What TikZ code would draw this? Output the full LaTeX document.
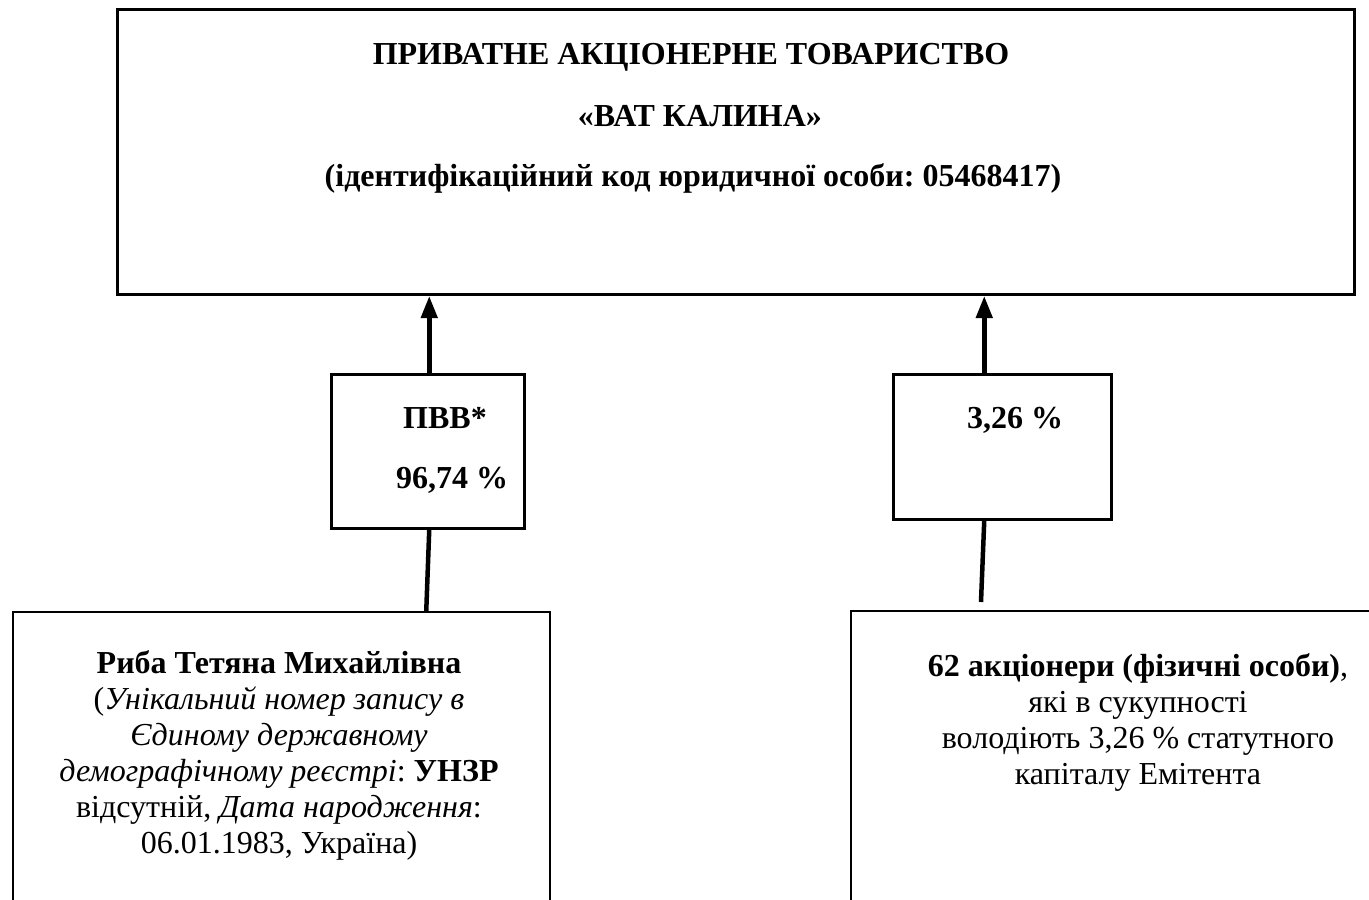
\documentclass[tikz,border=0pt]{standalone}
\usepackage{fontspec}
\setmainfont{Liberation Serif}
\frenchspacing
\usetikzlibrary{arrows.meta}
\begin{document}
\begin{tikzpicture}[x=1pt,y=-1pt,
  box/.style={draw, inner sep=0pt, anchor=north west},
  conn/.style={line width=4.5pt},
  tip/.style={-{Triangle[length=22pt,width=16pt]}},
  txt/.style={inner sep=0pt, anchor=base, font=\fontsize{32}{36}\selectfont\bfseries},
  para/.style={inner sep=0pt, anchor=base, align=center, font=\fontsize{32}{36}\selectfont}]
\useasboundingbox (0,0) rectangle (1369,900);
\fill[white] (0,0) rectangle (1369,900);
% boxes
\node[box, line width=3pt, minimum width=1237pt, minimum height=285pt] (top) at (116,8) {};
\node[box, line width=2.5pt, minimum width=193pt, minimum height=154pt] (sb1) at (330,373) {};
\node[box, line width=2.5pt, minimum width=218pt, minimum height=145pt] (sb2) at (892,373) {};
\node[box, line width=2.2pt, minimum width=537pt, minimum height=330pt] (bl) at (12,611) {};
\node[box, line width=2.2pt, minimum width=540pt, minimum height=330pt] (br) at (850,610) {};
% connectors
\draw[conn, tip] ([xshift=1.5pt]sb1.north) -- ([xshift=1.5pt]sb1.north |- top.south);
\draw[conn, tip] ([xshift=-18pt]sb2.north) -- ([xshift=-18pt]sb2.north |- top.south);
\draw[conn] ([xshift=1.5pt]sb1.south) -- ([xshift=-1.5pt]sb1.south |- bl.north);
\coordinate (rend) at (981,602);
\draw[conn] ([xshift=-18pt]sb2.south) -- (rend);
% top texts
\node[txt] (t1) at (691,64) {ПРИВАТНЕ АКЦІОНЕРНЕ ТОВАРИСТВО};
\node[txt] (t2) at (700,126) {«ВАТ КАЛИНА»};
\node[txt] (t3) at (693,186) {(ідентифікаційний код юридичної особи: 05468417)};
% small box texts
\node[txt] (p1) at (445,428) {ПВВ*};
\node[txt] (p2) at (452,488) {96,74 \%};
\node[txt] (p3) at (1015,428) {3,26 \%};
% bottom texts (base = last line)
\node[para] (d1) at (279,853) {\textbf{Риба Тетяна Михайлівна}\\
(\textit{Унікальний номер запису в}\\
\textit{Єдиному державному}\\
\textit{демографічному реєстрі}: \textbf{УНЗР}\\
відсутній, \textit{Дата народження}:\\
06.01.1983, Україна)};
\node[para] (d2) at (1138,784) {\textbf{62 акціонери (фізичні особи)},\\
які в сукупності\\
володіють 3,26 \% статутного\\
капіталу Емітента};
\end{tikzpicture}
\end{document}
